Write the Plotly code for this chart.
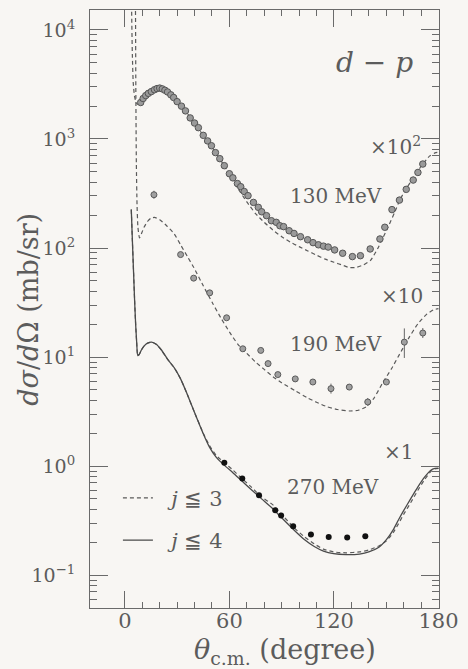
import numpy as np
import plotly.graph_objects as go

# ---- d-p elastic differential cross sections (mb/sr), c.m. angle in degrees ----
# display multipliers for the three energies
scale_130 = 100
scale_190 = 10
scale_270 = 1

# measured data
theta_130 = [9.1, 10.5, 12, 13.5, 15.2, 17, 18.5, 20, 21.5, 23, 24.5, 26.4, 28, 30, 32.5,
             34.8, 37.5, 40, 42.2, 45, 47.5, 49.7, 52, 54.5, 57.1, 60, 62, 64.6, 66.5,
             68.5, 70.7, 73.8, 76.6, 78.5, 81.3, 84.1, 86.9, 89, 91.1, 94.3, 97.1, 100.8,
             104.9, 108, 111.1, 114, 116.7, 120.4, 125, 130.6, 135.2, 140.8, 146.4, 149.2,
             153.3, 157.6, 161.5, 165.5, 168.2, 171]
dsig_130 = [21.6, 23.5, 25.0, 26.2, 27.2, 28.3, 29.0, 29.3, 28.8, 28.0, 27.0, 25.4, 24.0,
            22.0, 20.0, 18.1, 15.6, 14.0, 12.7, 10.8, 9.6, 8.67, 7.5, 6.6, 5.69, 4.8, 4.4,
            3.9, 3.65, 3.3, 3.02, 2.62, 2.36, 2.15, 1.98, 1.78, 1.72, 1.60, 1.57, 1.44,
            1.36, 1.27, 1.19, 1.12, 1.07, 1.04, 1.02, 0.96, 0.895, 0.834, 0.85, 0.98, 1.21,
            1.55, 2.25, 2.75, 3.45, 4.2, 4.93, 5.89]

theta_190 = [16.7, 32, 39.5, 48.7, 58.4, 67.7, 78, 82.2, 87.8, 97.8, 107.9, 118.3, 128.8,
             139.4, 150.1, 160.4, 171]
dsig_190 = [30.8, 8.7, 5.29, 3.88, 2.29, 1.19, 1.15, 0.87, 0.69, 0.63, 0.59, 0.513, 0.53,
            0.387, 0.59, 1.37, 1.66]
err_up_190 = [2.7, 0, 0, 0, 0, 0, 0, 0, 0, 0, 0, 0.057, 0, 0.034, 0, 0.46, 0.185]
err_dn_190 = [2.5, 0, 0, 0, 0, 0, 0, 0, 0, 0, 0, 0.051, 0, 0.031, 0, 0.39, 0.166]

theta_270 = [57.1, 67.4, 77, 86.3, 89.7, 96.6, 106.8, 117, 127.6, 138]
dsig_270 = [1.07, 0.77, 0.54, 0.394, 0.352, 0.281, 0.236, 0.223, 0.221, 0.227]

# calculations, j <= 3 (dashed)
calc_theta_130 = [3.6, 3.9, 4.3, 4.8, 5.5, 6.5, 7.5, 8.5, 9.5, 11, 13, 16, 19, 22, 26, 30,
                  35, 40, 45, 50, 55, 60, 65, 70, 75, 80, 85, 90, 95, 100, 105, 110, 115,
                  120, 125, 129, 133, 137, 141, 145, 148, 151, 155, 158, 162, 166, 170,
                  175, 178, 180]
calc_130 = [1000, 150, 60, 33, 25, 21.5, 20.8, 21.3, 22.3, 24.2, 26.5, 28.6, 29.4, 28.6,
            25.6, 22.3, 17.8, 14.0, 10.8, 8.4, 6.4, 4.75, 3.5, 2.65, 2.07, 1.72, 1.46,
            1.27, 1.13, 1.03, 0.94, 0.86, 0.79, 0.74, 0.695, 0.66, 0.665, 0.70, 0.77,
            0.98, 1.23, 1.55, 2.15, 2.8, 3.6, 4.5, 5.6, 7.0, 7.45, 7.55]

calc_theta_190 = [5.9, 6.1, 6.3, 6.6, 7.0, 7.5, 8.4, 9.5, 11, 13, 15, 17, 20, 24, 28.3, 32,
                  36, 39.5, 45, 50.6, 55, 60, 65, 70, 75, 80, 85, 90, 97.5, 105, 110, 116,
                  122, 129, 134, 138.4, 143, 147.7, 153, 158.9, 163, 168.2, 173, 177, 180]
calc_190 = [2000, 1500, 300, 60, 25, 15.5, 12.4, 13.5, 15.5, 17.5, 18.8, 19.1, 18.2, 16.0,
            13.5, 10.7, 8.3, 6.65, 4.5, 3.07, 2.3, 1.7, 1.3, 1.08, 0.9, 0.77, 0.66, 0.58,
            0.494, 0.42, 0.385, 0.35, 0.33, 0.32, 0.325, 0.348, 0.42, 0.57, 0.78, 1.15,
            1.5, 2.02, 2.45, 2.7, 2.78]

calc_theta_270 = [3.7, 4.3, 5.0, 5.6, 6.2, 6.8, 7.4, 8.3, 9.5, 11, 13, 15.3, 18, 21, 24.6,
                  28.3, 32, 35.7, 40, 45, 48.5, 52.5, 57, 62, 66, 72, 78.5, 85, 90, 97.5,
                  103, 108.7, 114, 119.8, 127, 134.7, 140, 145.8, 150, 154, 157, 160, 164,
                  168.2, 172, 175.6, 178, 180]
calc_270_j3 = [225, 120, 60, 33, 20, 13.5, 10.3, 10.6, 11.6, 12.6, 13.4, 13.7, 13.1, 11.6,
               9.5, 8.0, 6.3, 4.6, 3.1, 2.0, 1.55, 1.25, 1.08, 0.92, 0.80, 0.655, 0.52,
               0.44, 0.36, 0.268, 0.225, 0.193, 0.173, 0.163, 0.16, 0.163, 0.17, 0.185,
               0.205, 0.245, 0.295, 0.36, 0.46, 0.60, 0.75, 0.89, 0.94, 0.95]
# calculation, j <= 4 (solid)
calc_270_j4 = [225, 120, 60, 33, 20, 13.5, 10.3, 10.6, 11.6, 12.6, 13.4, 13.7, 13.1, 11.6,
               9.5, 8.0, 6.3, 4.6, 3.1, 1.98, 1.5, 1.2, 1.02, 0.87, 0.76, 0.62, 0.50,
               0.405, 0.335, 0.255, 0.212, 0.183, 0.166, 0.157, 0.154, 0.156, 0.163, 0.18,
               0.21, 0.26, 0.32, 0.39, 0.50, 0.644, 0.79, 0.916, 0.95, 0.955]

ink = "#5c5c5c"
axis_col = "#6a6a6a"
bg = "#f8f6f3"
serif = "DejaVu Serif"
dash = "4px,3px"
nb = "\u00a0"


def scaled(vals, k):
    return [v * k for v in vals]


fig = go.Figure()

# theory curves
for th, vals, k, show in [(calc_theta_130, calc_130, scale_130, True),
                          (calc_theta_190, calc_190, scale_190, False),
                          (calc_theta_270, calc_270_j3, scale_270, False)]:
    fig.add_trace(go.Scatter(
        x=th, y=scaled(vals, k), mode="lines",
        line=dict(color="#5a5a5a", width=1.2, dash=dash, shape="spline", smoothing=0.5),
        name=nb * 2 + "<i>j</i> ≦ 3", legendgroup="j3", showlegend=show,
        hoverinfo="skip"))

fig.add_trace(go.Scatter(
    x=calc_theta_270, y=scaled(calc_270_j4, scale_270), mode="lines",
    line=dict(color="#4a4a4a", width=1.3, shape="spline", smoothing=0.5),
    name=nb * 2 + "<i>j</i> ≦ 4", legendgroup="j4", showlegend=True, hoverinfo="skip"))

# data points
fig.add_trace(go.Scatter(
    x=theta_130, y=scaled(dsig_130, scale_130), mode="markers",
    marker=dict(size=6.5, color="#9a9a9a", line=dict(color="#555555", width=1)),
    showlegend=False))
fig.add_trace(go.Scatter(
    x=theta_190, y=scaled(dsig_190, scale_190), mode="markers",
    marker=dict(size=6, color="#a0a0a0", line=dict(color="#5a5a5a", width=1)),
    error_y=dict(type="data", symmetric=False,
                 array=scaled(err_up_190, scale_190),
                 arrayminus=scaled(err_dn_190, scale_190),
                 color="#666666", thickness=1, width=0),
    showlegend=False))
fig.add_trace(go.Scatter(
    x=theta_270, y=scaled(dsig_270, scale_270), mode="markers",
    marker=dict(size=6, color="#111111"),
    showlegend=False))

# axes
major_y = [0.1, 1, 10, 100, 1000, 10000]
major_y_text = ["10<sup>−1</sup>", "10<sup>0</sup>", "10<sup>1</sup>",
                "10<sup>2</sup>", "10<sup>3</sup>", "10<sup>4</sup>"]
minor_y = [m * 10.0 ** e for e in range(-2, 5) for m in range(2, 10)]
major_x = [0, 60, 120, 180]
minor_x = [v for v in range(10, 180, 10) if v % 60]

fig.update_xaxes(
    range=[-20, 180.3], showline=True, linecolor=axis_col, linewidth=1, mirror="allticks",
    ticks="inside", ticklen=17, tickwidth=1, tickcolor=axis_col,
    tickvals=major_x, ticktext=[str(v) for v in major_x],
    minor=dict(tickvals=minor_x, ticklen=6, tickwidth=1, tickcolor=axis_col, ticks="inside"),
    showgrid=False, zeroline=False, ticklabelstandoff=-6, ticklabeloverflow="allow",
    tickfont=dict(family=serif, size=21, color=ink))
fig.update_yaxes(
    type="log", range=[-1.302, 4.183], showline=True, linecolor=axis_col, linewidth=1,
    mirror="allticks", ticks="inside", ticklen=18, tickwidth=1, tickcolor=axis_col,
    tickvals=major_y, ticktext=major_y_text,
    minor=dict(tickvals=minor_y, ticklen=7, tickwidth=1, tickcolor=axis_col, ticks="inside"),
    showgrid=False, zeroline=False, ticklabelstandoff=10,
    tickfont=dict(family=serif, size=19, color=ink))

# labels
lab = dict(family=serif, size=20, color=ink)
notes = [
    (143, 3.698, "<i>d</i> − <i>p</i>", "center", dict(family=serif, size=28, color=ink)),
    (171, 2.938, "×10<sup>2</sup>", "right", lab),
    (121, 2.48, "130 MeV", "center", lab),
    (172, 1.564, "×10", "right", lab),
    (121, 1.115, "190 MeV", "center", lab),
    (166.5, 0.126, "×1", "right", lab),
    (119.3, -0.194, "270 MeV", "center", lab),
]
for x, y, t, anc, f in notes:
    fig.add_annotation(x=x, y=y, xref="x", yref="y", text=t, showarrow=False,
                       xanchor=anc, yanchor="middle", font=f)

fig.add_annotation(x=(291 - 90) / 359, y=-0.073, xref="paper", yref="paper",
                   text="<i>θ</i><sub>c.m.</sub> (degree)", showarrow=False,
                   xanchor="center", yanchor="middle",
                   font=dict(family=serif, size=27, color=ink))
fig.add_annotation(x=-(90 - 26) / 359, y=0.5, xref="paper", yref="paper",
                   text="<i>dσ</i>/<i>d</i>Ω (mb/sr)", showarrow=False, textangle=-90,
                   xanchor="center", yanchor="middle",
                   font=dict(family=serif, size=27, color=ink))

fig.update_layout(
    width=468, height=669,
    margin=dict(l=90, r=19, t=9, b=61),
    paper_bgcolor=bg, plot_bgcolor=bg,
    legend=dict(x=0.08, y=0.218, xanchor="left", yanchor="top",
                bgcolor="rgba(0,0,0,0)", font=dict(family=serif, size=21, color=ink),
                traceorder="grouped", tracegroupgap=12),
    showlegend=True,
)

fig.write_html("out.html")
